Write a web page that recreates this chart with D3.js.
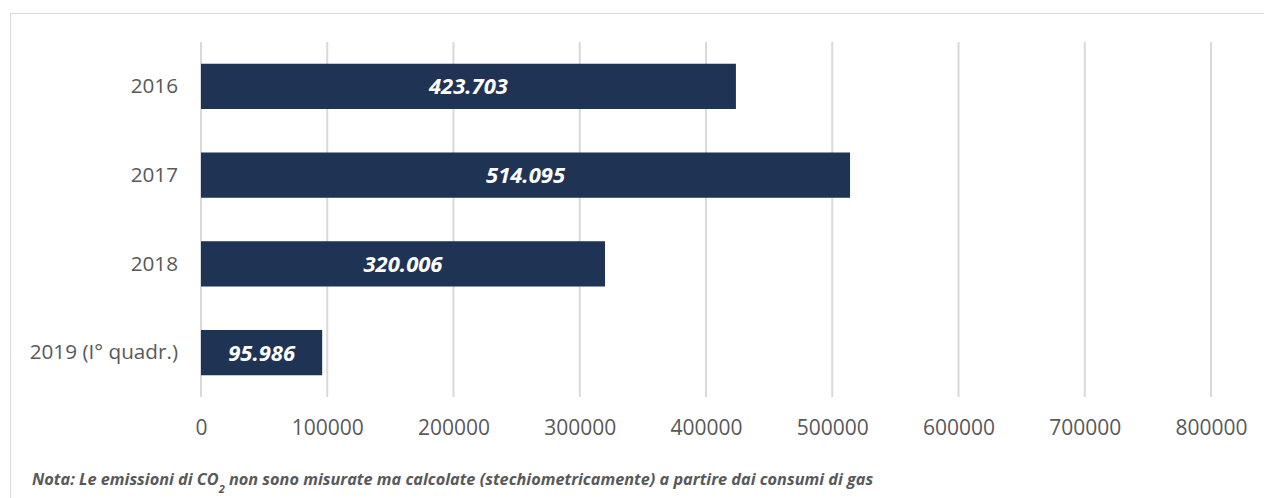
<!DOCTYPE html>
<html><head><meta charset="utf-8">
<script src="https://cdn.jsdelivr.net/npm/d3@7"></script>
<style>body{margin:0;background:#fff}svg{display:block}</style>
</head><body>
<script>
const categories = ["2016", "2017", "2018", "2019 (I° quadr.)"];
const values = [423703, 514095, 320006, 95986];
const valueLabels = ["423.703", "514.095", "320.006", "95.986"];
const tickValues = [0, 100000, 200000, 300000, 400000, 500000, 600000, 700000, 800000];

const W = 1264, H = 498;
const svg = d3.select("body").append("svg").attr("width", W).attr("height", H);
svg.append("rect").attr("x", 10.5).attr("y", 13.5).attr("width", 1262).attr("height", 500)
  .attr("fill", "#fff").attr("stroke", "#d9d9d9").attr("stroke-width", 1);

const x = d3.scaleLinear().domain([0, 800000]).range([201, 1211]);
const y = d3.scaleBand().domain(categories).range([42, 397]).paddingInner(0.49).paddingOuter(0.245);

const font = "'Open Sans', sans-serif";
// gridlines
svg.append("g").selectAll("line").data(tickValues).join("line")
  .attr("x1", d => x(d)).attr("x2", d => x(d)).attr("y1", 42).attr("y2", 397)
  .attr("stroke", "#d9d9d9").attr("stroke-width", 2);

// x axis labels
const xa = svg.append("g").attr("transform", "translate(0,397)")
  .call(d3.axisBottom(x).tickValues(tickValues).tickFormat(d3.format("d")).tickSize(0).tickPadding(23));
xa.select(".domain").remove();
xa.selectAll("text").attr("font-family", font).attr("font-size", 21).attr("fill", "#595959");

// y axis labels
const ya = svg.append("g").attr("transform", "translate(201,0)")
  .call(d3.axisLeft(y).tickSize(0).tickPadding(23));
ya.select(".domain").remove();
ya.selectAll("text").attr("font-family", font).attr("font-size", 20.7).attr("fill", "#595959");

// bars
svg.append("g").selectAll("rect").data(values).join("rect")
  .attr("x", x(0)).attr("y", (d, i) => y(categories[i]))
  .attr("width", d => x(d) - x(0)).attr("height", y.bandwidth())
  .attr("fill", "#1f3354");

svg.append("g").selectAll("text").data(values).join("text")
  .attr("x", d => (x(0) + x(d)) / 2).attr("y", (d, i) => y(categories[i]) + y.bandwidth() / 2)
  .attr("dy", "0.36em").attr("text-anchor", "middle")
  .attr("font-family", font).attr("font-size", 22).attr("font-weight", "bold").attr("font-style", "italic")
  .attr("fill", "#fff").text((d, i) => valueLabels[i]);

// note
const note = svg.append("text").attr("x", 32).attr("y", 485)
  .attr("font-family", font).attr("font-size", 16.3).attr("font-weight", "bold").attr("font-style", "italic")
  .attr("fill", "#595959");
note.append("tspan").text("Nota: Le emissioni di CO");
note.append("tspan").attr("baseline-shift", "sub").attr("font-size", 11).text("2");
note.append("tspan").text(" non sono misurate ma calcolate (stechiometricamente) a partire dai consumi di gas");
</script>
</body></html>
